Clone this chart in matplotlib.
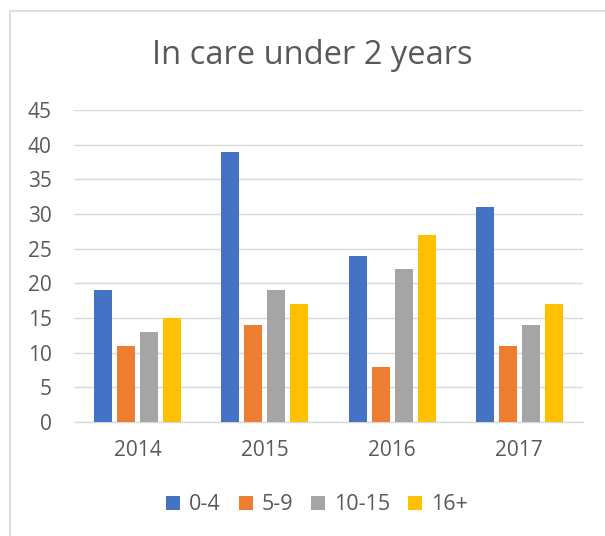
import matplotlib.pyplot as plt
import numpy as np
from matplotlib.patches import Rectangle

# data
years = ['2014', '2015', '2016', '2017']
series = ['0-4', '5-9', '10-15', '16+']
age_0_4 = [19, 39, 24, 31]
age_5_9 = [11, 14, 8, 11]
age_10_15 = [13, 19, 22, 14]
age_16_plus = [15, 17, 27, 17]
colors = ['#4472C4', '#ED7D31', '#A5A5A5', '#FFC000']

plt.rcParams['font.family'] = ['Open Sans', 'DejaVu Sans']
text_col = '#595959'

fig = plt.figure(figsize=(6.05, 5.36), dpi=100)
ax = fig.add_axes([74/605, 1-422/536, (583-74)/605, (422-110)/536])

# chart border like the excel frame
fig.patches.append(Rectangle((10/605, -0.1), 1.2, 1 - 11/536 + 0.1, transform=fig.transFigure,
                             fill=False, edgecolor='#D9D9D9', linewidth=1.2))

x = np.arange(len(years))
w = 0.141
step = 0.181
for i, (vals, name) in enumerate(zip([age_0_4, age_5_9, age_10_15, age_16_plus], series)):
    ax.bar(x + (i - 1.5) * step, vals, width=w, color=colors[i], label=name, zorder=3)

ax.set_xlim(-0.5, 3.5)
ax.set_ylim(0, 45)
ax.set_yticks(range(0, 46, 5))
ax.set_xticks(x)
ax.set_xticklabels(years)
ax.yaxis.grid(True, color='#D9D9D9', linewidth=1)
for s in ['top', 'right', 'left']:
    ax.spines[s].set_visible(False)
ax.spines['bottom'].set_color('#D9D9D9')
ax.spines['bottom'].set_linewidth(1)
ax.tick_params(axis='both', length=0, labelsize=15, colors=text_col)
ax.tick_params(axis='y', pad=16)
ax.tick_params(axis='x', pad=13)

fig.text(0.517, 1-55/536, 'In care under 2 years', ha='center', va='center',
         fontsize=23.5, color=text_col)

leg = ax.legend(loc='center', bbox_to_anchor=(317/605, 1-505/536), bbox_transform=fig.transFigure,
                ncol=4, frameon=False, fontsize=15.5, handlelength=0.65, handleheight=0.65,
                handletextpad=0.4, columnspacing=0.85)
for t in leg.get_texts():
    t.set_color(text_col)

fig.savefig('out.png', dpi=100)
